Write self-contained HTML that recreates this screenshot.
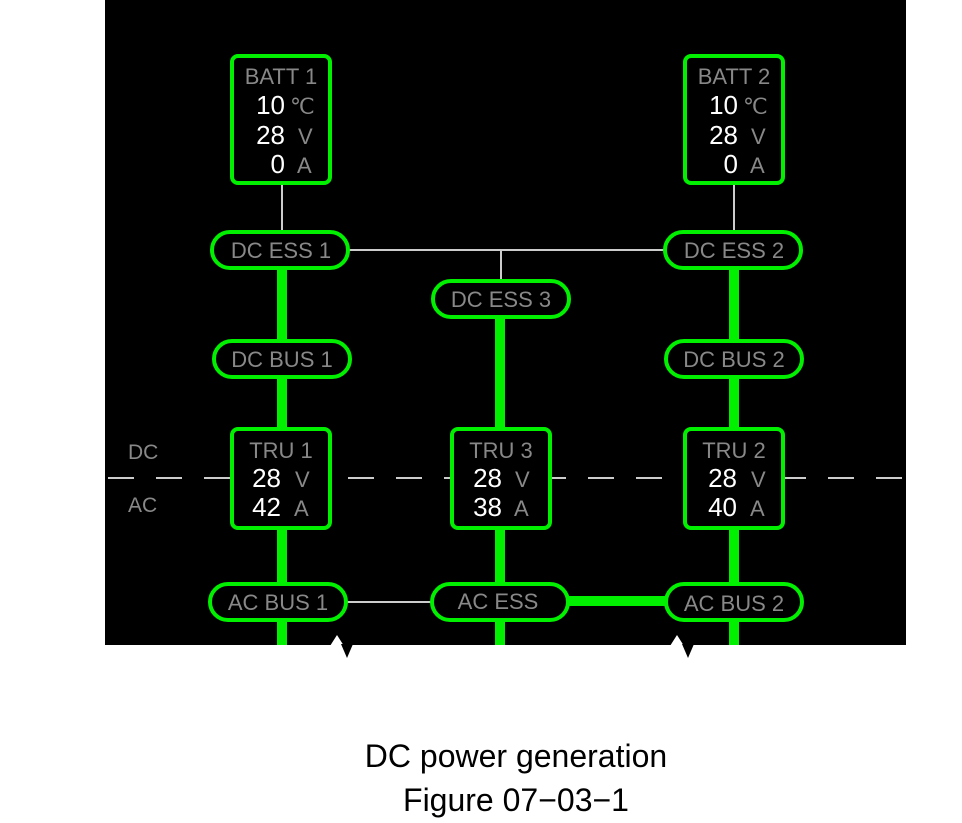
<!DOCTYPE html>
<html><head><style>
body{margin:0;background:#fff;}
svg{display:block}
text{font-family:"Liberation Sans",sans-serif;}
</style></head><body>
<svg width="962" height="823" viewBox="0 0 962 823" xmlns="http://www.w3.org/2000/svg">
<rect x="105" y="0" width="801" height="645" fill="#000"/>
<polygon points="330,646 337,635 344,646" fill="#fff"/>
<polygon points="341,644 347,658 353,644" fill="#000"/>
<polygon points="670,646 677,635 684,646" fill="#fff"/>
<polygon points="682,644 688,658 694,644" fill="#000"/>
<line x1="108" y1="478" x2="906" y2="478" stroke="#ccc" stroke-width="2" stroke-dasharray="26,22"/>
<text x="128" y="459" font-size="21" fill="#888">DC</text>
<text x="128" y="512" font-size="21" fill="#888">AC</text>
<g stroke="#ccc" stroke-width="2">
<line x1="282" y1="183" x2="282" y2="232"/>
<line x1="734" y1="183" x2="734" y2="232"/>
<line x1="348" y1="250" x2="665" y2="250"/>
<line x1="501" y1="250" x2="501" y2="281"/>
<line x1="346" y1="602" x2="432" y2="602"/>
</g>
<g stroke="#00f000" stroke-width="10">
<line x1="282" y1="268" x2="282" y2="645"/>
<line x1="500" y1="317" x2="500" y2="645"/>
<line x1="734" y1="268" x2="734" y2="645"/>
<line x1="568" y1="601" x2="666" y2="601"/>
</g>
<g stroke="#00f000" stroke-width="4" fill="#000">
<rect x="232" y="56" width="98" height="127" rx="6"/>
<rect x="685" y="56" width="98" height="127" rx="6"/>
<rect x="212" y="232" width="136" height="36" rx="18"/>
<rect x="665" y="232" width="136" height="36" rx="18"/>
<rect x="433" y="281" width="136" height="36" rx="18"/>
<rect x="214" y="341" width="136" height="36" rx="18"/>
<rect x="666" y="341" width="136" height="36" rx="18"/>
<rect x="232" y="429" width="98" height="99" rx="6"/>
<rect x="452" y="429" width="98" height="99" rx="6"/>
<rect x="685" y="429" width="98" height="99" rx="6"/>
<rect x="210" y="584" width="136" height="36" rx="18"/>
<rect x="432" y="584" width="136" height="36" rx="18"/>
<rect x="666" y="584" width="136" height="36" rx="18"/>
</g>
<g font-size="22" fill="#888" text-anchor="middle">
<text x="281" y="84">BATT 1</text>
<text x="734" y="84">BATT 2</text>
<text x="281" y="258">DC ESS 1</text>
<text x="734" y="258">DC ESS 2</text>
<text x="501" y="307">DC ESS 3</text>
<text x="282" y="367">DC BUS 1</text>
<text x="734" y="367">DC BUS 2</text>
<text x="281" y="458">TRU 1</text>
<text x="501" y="458">TRU 3</text>
<text x="734" y="458">TRU 2</text>
<text x="278" y="610">AC BUS 1</text>
<text x="498" y="609">AC ESS</text>
<text x="734" y="611">AC BUS 2</text>
</g>
<g font-size="26" fill="#fff" text-anchor="end">
<text x="285" y="114">10</text><text x="285" y="144">28</text><text x="285" y="173">0</text>
<text x="738" y="114">10</text><text x="738" y="144">28</text><text x="738" y="173">0</text>
<text x="281" y="487">28</text><text x="281" y="516">42</text>
<text x="502" y="487">28</text><text x="502" y="516">38</text>
<text x="737" y="487">28</text><text x="737" y="516">40</text>
</g>
<g font-size="22" fill="#888">
<text x="290" y="114">℃</text><text x="298" y="144">V</text><text x="297" y="173">A</text>
<text x="743" y="114">℃</text><text x="751" y="144">V</text><text x="750" y="173">A</text>
<text x="295" y="487">V</text><text x="294" y="516">A</text>
<text x="515" y="487">V</text><text x="514" y="516">A</text>
<text x="751" y="487">V</text><text x="750" y="516">A</text>
</g>
<g font-size="32" fill="#000" text-anchor="middle">
<text x="516" y="767">DC power generation</text>
<text x="516" y="811">Figure 07−03−1</text>
</g>
</svg>
</body></html>
